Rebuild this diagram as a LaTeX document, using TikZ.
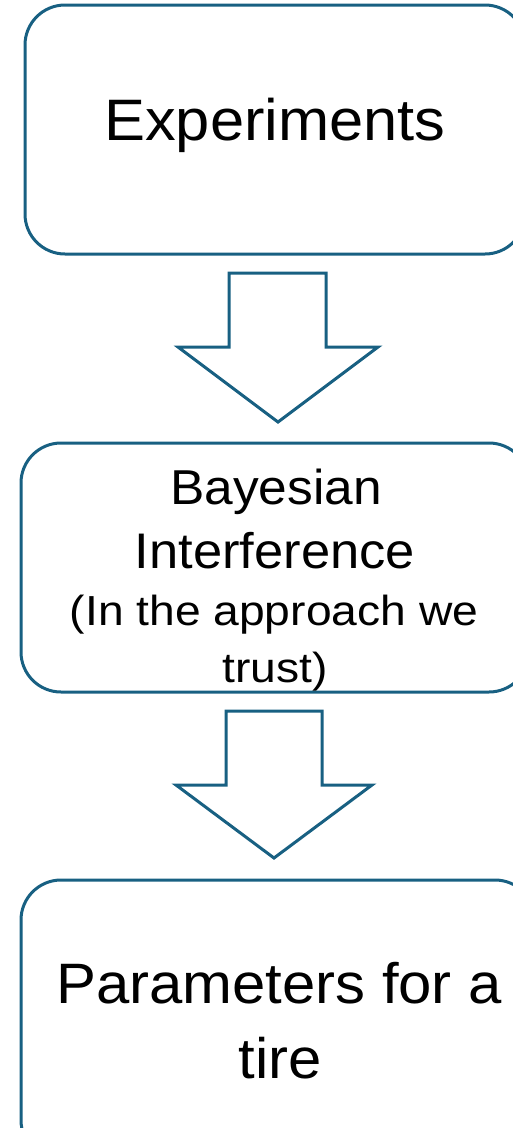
\documentclass[tikz,border=0pt]{standalone}
\usepackage{fontspec}
\setmainfont{Liberation Sans}[FakeStretch=1.05]
\newfontfamily\widesans{Liberation Sans}[FakeStretch=1.1]
\definecolor{edgeblue}{RGB}{24,96,130}
\tikzset{
  box/.style={draw=edgeblue, line width=3pt, rounded corners=40pt, fill=white},
  bigarrow/.style={draw=edgeblue, line width=3pt, fill=white, line join=miter},
  lbl/.style={anchor=base, inner sep=0pt, text=black}
}
\begin{document}
\begin{tikzpicture}[x=1pt,y=-1pt]
\useasboundingbox (0,0) rectangle (513,1128);
% boxes
\draw[box] (25,5) rectangle (525,254);
\draw[box] (21,443) rectangle (529,692);
\draw[box] (21,880) rectangle (535,1160);
% arrows
\draw[bigarrow] (229,273) -- (326,273) -- (326,347) -- (378,347) -- (278,422) -- (178,347) -- (229,347) -- cycle;
\draw[bigarrow] (226,711) -- (322,711) -- (322,785) -- (372,785) -- (274,858) -- (176,785) -- (226,785) -- cycle;
% texts
\node[lbl, font=\fontsize{58.5}{66}\selectfont] (exp) at (275,140) {Experiments};
\node[lbl, font=\fontsize{49}{58}\selectfont] (bay1) at (276,504) {Bayesian};
\node[lbl, font=\fontsize{50}{58}\selectfont] (bay2) at (275,568) {Interference};
\node[lbl, font=\widesans\fontsize{42}{48}\selectfont] (bay3) at (274,625) {(In the approach we};
\node[lbl, font=\widesans\fontsize{42}{48}\selectfont] (bay4) at (275,682) {trust)};
\node[lbl, font=\fontsize{57}{66}\selectfont] (par1) at (279,1003) {Parameters for a};
\node[lbl, font=\fontsize{57}{66}\selectfont] (par2) at (280,1078) {tire};
\end{tikzpicture}
\end{document}
